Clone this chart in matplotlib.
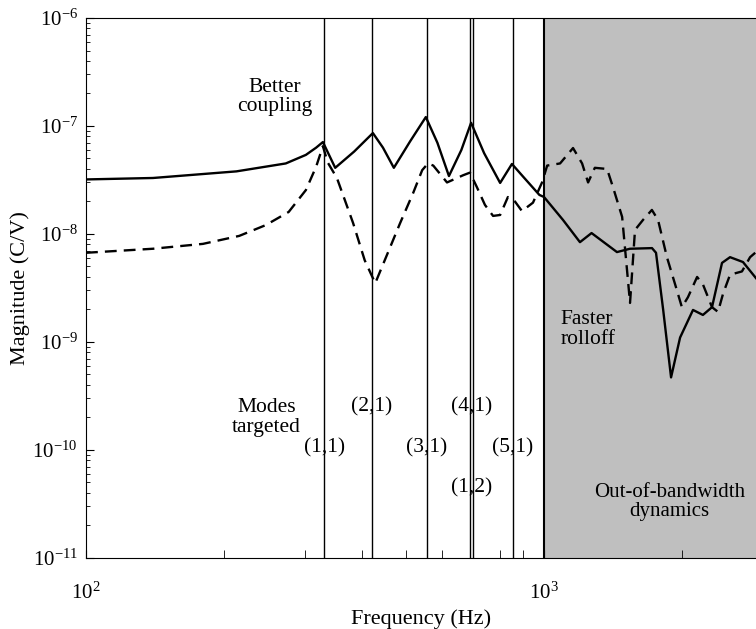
import matplotlib
matplotlib.use('Agg')
import matplotlib.pyplot as plt

# frequency response, solid curve
f_solid = [100, 140, 213, 273, 302, 318, 329, 340, 350, 385, 423, 445, 470, 510, 552,
           585, 620, 660, 693, 740, 802, 851, 900, 977, 1000, 1100, 1198, 1270, 1443,
           1540, 1721, 1756, 1820, 1894, 1982, 2115, 2223, 2327, 2447, 2548, 2719, 2903]
m_solid = [3.2e-8, 3.3e-8, 3.8e-8, 4.5e-8, 5.4e-8, 6.3e-8, 7.1e-8, 5.3e-8, 4.1e-8, 5.8e-8,
           8.6e-8, 6.3e-8, 4.1e-8, 7.2e-8, 1.21e-7, 7.0e-8, 3.44e-8, 6.0e-8, 1.07e-7,
           5.6e-8, 2.97e-8, 4.45e-8, 3.4e-8, 2.3e-8, 2.2e-8, 1.35e-8, 8.4e-9, 1.02e-8,
           6.8e-9, 7.3e-9, 7.4e-9, 6.7e-9, 2.0e-9, 4.7e-10, 1.1e-9, 1.98e-9, 1.78e-9,
           2.1e-9, 5.4e-9, 6.1e-9, 5.5e-9, 3.9e-9]

# frequency response, dashed curve
f_dash = [100, 140, 180, 216, 247, 277, 302, 318, 329, 337, 353, 383, 406, 428, 454, 485,
          518, 542, 558, 573, 614, 666, 689, 714, 743, 774, 802, 834, 864, 895, 946, 990,
          1016, 1084, 1157, 1211, 1248, 1291, 1373, 1415, 1481, 1541, 1580, 1645, 1720,
          1774, 1855, 1951, 2000, 2062, 2159, 2224, 2327, 2398, 2460, 2548, 2705, 2818, 2903]
m_dash = [6.7e-9, 7.3e-9, 8.1e-9, 9.6e-9, 1.21e-8, 1.6e-8, 2.55e-8, 4.2e-8, 6.5e-8, 4.6e-8,
          3.3e-8, 1.26e-8, 5.7e-9, 3.5e-9, 6.4e-9, 1.26e-8, 2.4e-8, 3.9e-8, 4.5e-8, 4.3e-8,
          3.0e-8, 3.5e-8, 3.7e-8, 2.7e-8, 1.86e-8, 1.47e-8, 1.5e-8, 2.2e-8, 2.0e-8, 1.63e-8,
          1.95e-8, 3.0e-8, 4.3e-8, 4.5e-8, 6.25e-8, 4.5e-8, 3.0e-8, 4.1e-8, 4.0e-8, 2.7e-8,
          1.44e-8, 2.3e-9, 1.09e-8, 1.35e-8, 1.67e-8, 1.35e-8, 6.1e-9, 3.0e-9, 2.1e-9,
          2.6e-9, 4.0e-9, 3.4e-9, 2.1e-9, 1.9e-9, 2.8e-9, 4.2e-9, 4.5e-9, 6.1e-9, 6.8e-9]

# targeted modes
mode_freqs = [331, 421, 555, 689, 700, 855]
mode_labels = ['(1,1)', '(2,1)', '(3,1)', '(4,1)', '(1,2)', '(5,1)']
label_freqs = [331, 421, 555, 695, 695, 855]
label_mags = [1.05e-10, 2.5e-10, 1.05e-10, 2.5e-10, 4.5e-11, 1.05e-10]

band_edge = 1000

plt.rcParams['font.family'] = ['Liberation Serif', 'DejaVu Serif']
plt.rcParams['mathtext.fontset'] = 'stix'

fig = plt.figure(figsize=(7.56, 6.29), dpi=100)
ax = fig.add_axes([0.1138, 0.1129, 0.8862, 0.8585])

ax.set_xscale('log')
ax.set_yscale('log')
ax.set_xlim(100, 2903)
ax.set_ylim(1e-11, 1e-6)

ax.axvspan(band_edge, 2903, color='#bfbfbf', lw=0, zorder=0)
ax.axvline(band_edge, color='black', lw=1.5, zorder=1)
for f in mode_freqs:
    ax.axvline(f, color='black', lw=1.0, zorder=1)

ax.plot(f_solid, m_solid, color='black', lw=1.7, zorder=3)
ax.plot(f_dash, m_dash, color='black', lw=1.7, dashes=(5, 3), zorder=3)

fs = 15.5
for lab, f, m in zip(mode_labels, label_freqs, label_mags):
    ax.text(f, m, lab, ha='center', va='center', fontsize=fs, zorder=2)

ax.text(258, 1.85e-7, 'Better\ncoupling', ha='center', va='center', fontsize=fs,
        linespacing=1.05)
ax.text(248, 2.0e-10, 'Modes\ntargeted', ha='center', va='center', fontsize=fs,
        linespacing=1.05)
ax.text(1088, 1.3e-9, 'Faster\nrolloff', ha='left', va='center', fontsize=fs,
        linespacing=1.05)
ax.text(1880, 3.3e-11, 'Out-of-bandwidth\ndynamics', ha='center', va='center',
        fontsize=15, linespacing=1.05)

ax.set_xlabel('Frequency (Hz)', fontsize=16, labelpad=4)
ax.set_ylabel('Magnitude (C/V)', fontsize=16, labelpad=2)

ax.spines['right'].set_visible(False)
ax.tick_params(axis='both', which='both', direction='in', top=False, right=False)
ax.tick_params(axis='x', which='major', length=6, pad=18, labelsize=15)
ax.tick_params(axis='x', which='minor', length=6)
ax.tick_params(axis='y', which='major', length=6, pad=6, labelsize=15)
ax.tick_params(axis='y', which='minor', length=3)
ax.xaxis.set_minor_formatter(matplotlib.ticker.NullFormatter())
ax.yaxis.set_minor_formatter(matplotlib.ticker.NullFormatter())
ax.xaxis.offsetText.set_visible(False)
ax.yaxis.offsetText.set_visible(False)

fig.savefig('out.png', dpi=100)
